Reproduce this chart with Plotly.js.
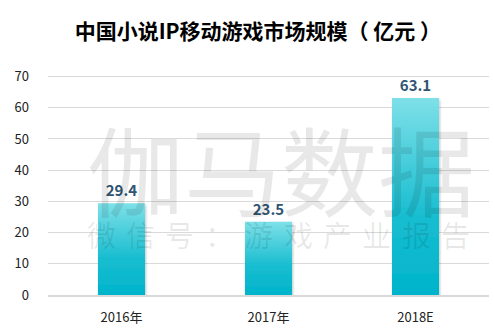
<!DOCTYPE html>
<html><head><meta charset="utf-8">
<script src="https://cdn.plot.ly/plotly-3.0.1.min.js"></script>
<style>body{margin:0;background:#fff}#c{width:495px;height:335px}</style>
</head><body><div id="c"></div>
<script>
const categories = ["2016年", "2017年", "2018E"];
const values = [29.4, 23.5, 63.1];
const valueLabels = ["29.4", "23.5", "63.1"];
const yTicks = [0, 10, 20, 30, 40, 50, 60, 70];
const watermarkSub = ["微", "信", "号", "：", "游", "戏", "产", "业", "报", "告"];

const font = "'Noto Sans CJK SC', 'Noto Sans', sans-serif";
const trace = {
  type: "bar", x: categories, y: values, width: 0.32,
  marker: {color: "#19b9cc", line: {width: 0}},
  text: valueLabels, textposition: "outside", cliponaxis: false,
  textfont: {family: font, size: 15, color: "#2f5573", weight: "bold"},
  hoverinfo: "none"
};
const wmColor = "rgba(0,0,0,0.09)";
const annotations = [
  {text: "伽马数据", xref: "paper", yref: "paper", x: 0.528, y: 0.586, xanchor: "center", yanchor: "middle",
   showarrow: false, font: {family: font, size: 97, color: wmColor}}
];
watermarkSub.forEach(function(ch, i){
  annotations.push({text: ch, xref: "paper", yref: "paper",
    x: (101 + i * 39.4 - 48) / 441, y: (295 - 234) / 220, xanchor: "center", yanchor: "middle",
    showarrow: false, font: {family: font, size: 29, color: wmColor}});
});
const layout = {
  width: 495, height: 335,
  margin: {l: 48, r: 6, t: 75, b: 40},
  paper_bgcolor: "#fff", plot_bgcolor: "#fff",
  title: {text: "<b>中国小说IP移动游戏市场规模（ 亿元 ）</b>", x: 0.521, xanchor: "center", y: 0.905, yanchor: "middle",
          font: {family: font, size: 21, color: "#000"}},
  xaxis: {type: "category", showgrid: false, showline: true, linecolor: "#d9d9d9", linewidth: 1.5,
          ticks: "", tickfont: {family: font, size: 13, color: "#222"}, ticklabelstandoff: 10},
  yaxis: {range: [0, 70.5], tickvals: yTicks, showgrid: true, gridcolor: "#dadada", gridwidth: 1,
          zeroline: false, showline: false, ticks: "", ticklabelstandoff: 18,
          tickfont: {family: font, size: 13, color: "#222"}},
  showlegend: false,
  annotations: annotations
};
Plotly.newPlot("c", [trace], layout, {staticPlot: true}).then(function(gd){
  const svg = gd.querySelector("svg.main-svg");
  const ns = "http://www.w3.org/2000/svg";
  let defs = svg.querySelector("defs");
  const g = document.createElementNS(ns, "linearGradient");
  g.setAttribute("id", "barGrad"); g.setAttribute("x1", "0"); g.setAttribute("y1", "0");
  g.setAttribute("x2", "0"); g.setAttribute("y2", "1");
  [["0", "#7ee0e8"], ["0.6", "#18bdd0"], ["1", "#00b4cb"]].forEach(function(s){
    const st = document.createElementNS(ns, "stop");
    st.setAttribute("offset", s[0]); st.setAttribute("stop-color", s[1]); g.appendChild(st);
  });
  defs.appendChild(g);
  const f = document.createElementNS(ns, "filter");
  f.setAttribute("id", "barShadow"); f.setAttribute("x", "-20%"); f.setAttribute("y", "-5%");
  f.setAttribute("width", "140%"); f.setAttribute("height", "110%");
  const ds = document.createElementNS(ns, "feDropShadow");
  ds.setAttribute("dx", "1"); ds.setAttribute("dy", "1.5"); ds.setAttribute("stdDeviation", "1");
  ds.setAttribute("flood-color", "#000"); ds.setAttribute("flood-opacity", "0.25");
  f.appendChild(ds); defs.appendChild(f);
  gd.querySelectorAll(".trace.bars .point path").forEach(function(p){
    p.style.fill = "url(#barGrad)";
    p.setAttribute("filter", "url(#barShadow)");
  });
});
</script></body></html>
